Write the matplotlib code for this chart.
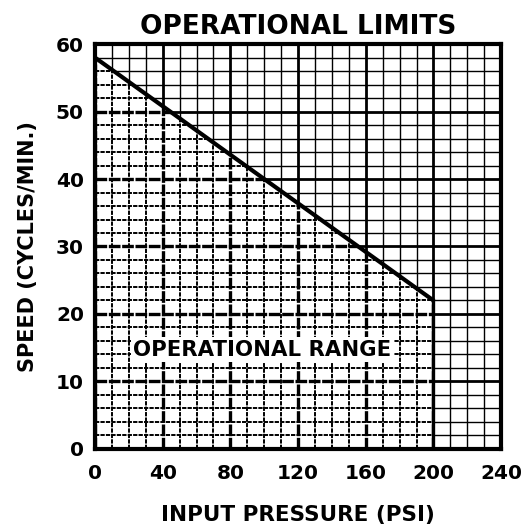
import matplotlib
matplotlib.use("Agg")
import matplotlib.pyplot as plt
from matplotlib.patches import Polygon
import numpy as np

# Data
pressure = [0, 200]          # PSI
speed_limit = [58, 22]       # cycles/min
x_ticks = [0, 40, 80, 120, 160, 200, 240]
y_ticks = [0, 10, 20, 30, 40, 50, 60]
title = "OPERATIONAL LIMITS"
x_label = "INPUT PRESSURE (PSI)"
y_label = "SPEED (CYCLES/MIN.)"
region_label = "OPERATIONAL RANGE"

plt.rcParams['font.family'] = ['DejaVu Sans']
plt.rcParams['font.weight'] = 'bold'

fig = plt.figure(figsize=(5.22, 5.25), dpi=100)
ax = fig.add_axes([0.182, 0.145, 0.778, 0.771])
ax.set_xlim(0, 240)
ax.set_ylim(0, 60)

# polygons for clipping
lower = Polygon([(0, 0), (0, speed_limit[0]), (200, speed_limit[1]), (200, 0)],
                closed=True, transform=ax.transData, facecolor='none', edgecolor='none')
upper = Polygon([(0, speed_limit[0]), (0, 60), (240, 60), (240, 0), (200, 0), (200, speed_limit[1])],
                closed=True, transform=ax.transData, facecolor='none', edgecolor='none')
ax.add_patch(lower)
ax.add_patch(upper)

minor_x = np.arange(0, 241, 10)
minor_y = np.arange(0, 61, 2)
for clip, lsm, lsM, lwm, lwM in [(upper, '-', '-', 1.0, 2.0),
                                  (lower, (0, (2.2, 0.6)), (0, (3.5, 0.5)), 1.4, 2.4)]:
    for xv in minor_x:
        major = xv % 40 == 0
        l = ax.axvline(xv, color='black', lw=lwM if major else lwm, ls=lsM if major else lsm, zorder=1)
        l.set_clip_path(clip)
    for yv in minor_y:
        major = yv % 10 == 0
        l = ax.axhline(yv, color='black', lw=lwM if major else lwm, ls=lsM if major else lsm, zorder=1)
        l.set_clip_path(clip)

ax.plot(pressure, speed_limit, color='black', lw=3, solid_capstyle='butt', zorder=3)
ax.plot([200, 200], [0, speed_limit[1]], color='black', lw=2.4, zorder=3)

ax.text(99, 14.7, region_label, fontsize=15.3, fontweight='bold', ha='center', va='center',
        bbox=dict(facecolor='white', edgecolor='none', pad=2), zorder=4)

ax.set_xticks(x_ticks)
ax.set_yticks(y_ticks)
ax.tick_params(axis='x', length=0, labelsize=14.5, pad=11)
ax.tick_params(axis='y', length=0, labelsize=14.5, pad=8)
for lab in ax.get_xticklabels() + ax.get_yticklabels():
    lab.set_fontweight('bold')
xl = ax.get_xticklabels()
xl[-1].set_horizontalalignment('center')
for s in ax.spines.values():
    s.set_linewidth(3)
    s.set_zorder(5)

ax.set_title(title, fontsize=19, fontweight='bold', pad=7)
ax.set_xlabel(x_label, fontsize=15.5, fontweight='bold', labelpad=16)
ax.set_ylabel(y_label, fontsize=15, fontweight='bold', labelpad=13)

fig.savefig("out.png", dpi=100)
